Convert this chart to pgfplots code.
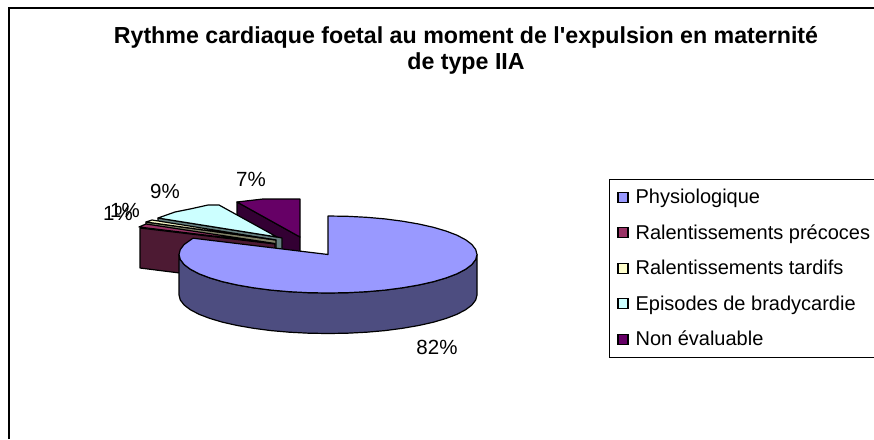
\documentclass[border=0pt]{standalone}
\usepackage{fontspec}
\setmainfont{Liberation Sans}
\usepackage{pgfplots}
\pgfplotsset{compat=1.18}
\definecolor{cPhys}{HTML}{9999FF}
\definecolor{cPhysS}{HTML}{4D4D80}
\definecolor{cPrec}{HTML}{993366}
\definecolor{cPrecS}{HTML}{4D1A33}
\definecolor{cTard}{HTML}{FFFFCC}
\definecolor{cTardS}{HTML}{808066}
\definecolor{cEpi}{HTML}{CCFFFF}
\definecolor{cEpiS}{HTML}{668080}
\definecolor{cNon}{HTML}{660066}
\definecolor{cNonS}{HTML}{330033}
\pgfplotsset{
  slice/.style={fill=#1,draw=black,line width=1.2pt,line join=round,forget plot},
  swatch/.style={legend image code/.code={
    \draw[fill=#1,draw=black,line width=1.2pt] (0pt,-5pt) rectangle (10pt,5pt);}},
}
\begin{document}
\begin{tikzpicture}[x=1pt,y=1pt]
\useasboundingbox (0,0) rectangle (874,439);
\clip (0,0) rectangle (874,439);
\begin{axis}[
  at={(0pt,0pt)},anchor=south west,
  width=874pt,height=439pt,scale only axis,
  xmin=0,xmax=874,ymin=0,ymax=439,y dir=reverse,
  axis lines=none,clip=false,
  legend cell align=left,
  legend style={at={(axis cs:609,179)},anchor=north west,draw=black,line width=0.7pt,
    font=\fontsize{20}{20}\selectfont,
    inner xsep=8pt,inner ysep=8pt,row sep=15.4pt,
    /tikz/column 1/.style={column sep=5pt}},
]
% legend
\addlegendimage{swatch=cPhys}\addlegendentry{Physiologique}
\addlegendimage{swatch=cPrec}\addlegendentry{Ralentissements précoces}
\addlegendimage{swatch=cTard}\addlegendentry{Ralentissements tardifs}
\addlegendimage{swatch=cEpi}\addlegendentry{Episodes de bradycardie}
\addlegendimage{swatch=cNon}\addlegendentry{Non évaluable}
% chart frame
\addplot[black,line width=1.3pt,forget plot] coordinates {(9,439) (9,8) (874,8)};
% Non evaluable
\addplot[slice=cNonS] coordinates {(237,202) (237,243) (300,278) (300,237)} --cycle;
\addplot[slice=cNon] coordinates {(237,202) (250,200.5) (263,199) (300,199) (300,237)} --cycle;
% Episodes
\addplot[slice=cEpiS] coordinates {(158,218) (158,258) (282,280) (282,238) (277,237)} --cycle;
\addplot[slice=cEpi] coordinates {(158,218) (175,212) (190,209) (208,205) (219,205) (277,237)} --cycle;
% Tardifs
\addplot[slice=cTardS] coordinates {(146,222) (146,262) (276,283) (276,240)} --cycle;
\addplot[slice=cTard] coordinates {(146,222) (152,220) (276,240)} --cycle;
% Precoces
\addplot[slice=cPrecS] coordinates {(140,228) (140,268) (275,285) (275,244)} --cycle;
\addplot[slice=cPrec] coordinates {(139,227) (146,224) (275,243.5)} --cycle;
% Physiologique side
\addplot[slice=cPhysS] coordinates {
 (477,254.5) (475.7,259.5) (471.9,264.5) (465.7,269.2) (457,273.8) (446.2,277.9) (433.4,281.7)
 (418.7,285) (402.5,287.8) (385,290.1) (366.6,291.7) (347.4,292.7) (328,293)
 (308.6,292.7) (289.4,291.7) (271,290.1) (253.5,287.8) (237.3,285) (222.6,281.7)
 (209.8,277.9) (199,273.8) (190.3,269.2) (184.1,264.5) (180.3,259.5) (179,254.5)
 (179,295) (180.3,300) (184.1,305) (190.3,309.7) (199,314.3) (209.8,318.4) (222.6,322.2)
 (237.3,325.5) (253.5,328.3) (271,330.6) (289.4,332.2) (308.6,333.2) (328,333.5)
 (347.4,333.2) (366.6,332.2) (385,330.6) (402.5,328.3) (418.7,325.5) (433.4,322.2)
 (446.2,318.4) (457,314.3) (465.7,309.7) (471.9,305) (475.7,300) (477,295)} --cycle;
% Physiologique top
\addplot[slice=cPhys] coordinates {
 (328,254.5) (328,216) (347.4,216.3) (366.6,217.3) (385,218.9) (402.5,221.2) (418.7,224)
 (433.4,227.3) (446.2,231.1) (457,235.2) (465.7,239.8) (471.9,244.5) (475.7,249.5) (477,254.5)
 (475.7,259.5) (471.9,264.5) (465.7,269.2) (457,273.8) (446.2,277.9) (433.4,281.7)
 (418.7,285) (402.5,287.8) (385,290.1) (366.6,291.7) (347.4,292.7) (328,293)
 (308.6,292.7) (289.4,291.7) (271,290.1) (253.5,287.8) (237.3,285) (222.6,281.7)
 (209.8,277.9) (199,273.8) (190.3,269.2) (184.1,264.5) (180.3,259.5) (179,254.5)
 (180.3,249.5) (184.1,244.5) (193,238.2)} --cycle;
% labels
\node[font=\fontsize{20.5}{20.5}\selectfont] at (axis cs:437,347) {82\%};
\node[font=\fontsize{20.5}{20.5}\selectfont] at (axis cs:251,179.5) {7\%};
\node[font=\fontsize{20.5}{20.5}\selectfont] at (axis cs:165,191) {9\%};
\node[font=\fontsize{20.5}{20.5}\selectfont] at (axis cs:118,213.5) {1\%};
\node[font=\fontsize{20.5}{20.5}\selectfont] at (axis cs:125,210) {1\%};
% title
\node[font=\fontsize{23.2}{23.2}\bfseries\selectfont] at (axis cs:466,37) {Rythme cardiaque foetal au moment de l\textquotesingle expulsion en maternité};
\node[font=\fontsize{23.2}{23.2}\bfseries\selectfont] at (axis cs:466,64) {de type IIA};
\end{axis}
\end{tikzpicture}
\end{document}
